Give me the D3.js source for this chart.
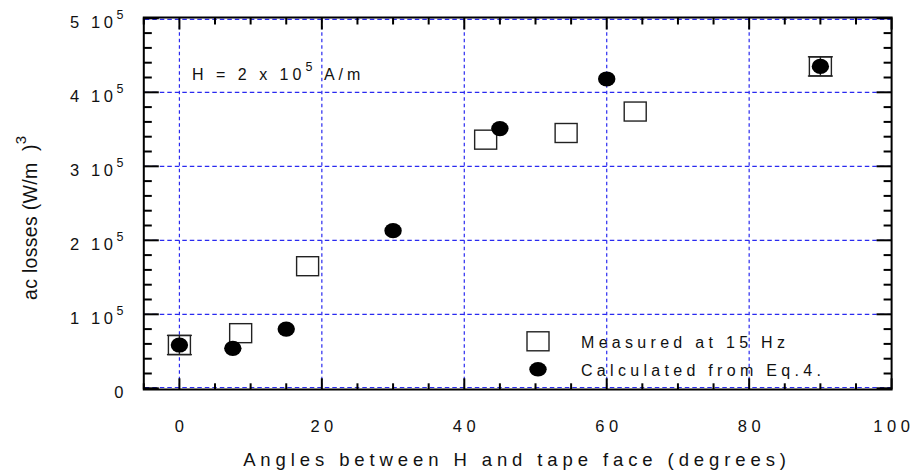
<!DOCTYPE html>
<html>
<head>
<meta charset="utf-8">
<script src="https://cdn.jsdelivr.net/npm/d3@7/dist/d3.min.js"></script>
<style>
  html, body { margin: 0; padding: 0; background: #fff; }
  svg { display: block; font-family: "Liberation Sans", Arial, sans-serif; }
</style>
</head>
<body>
<svg id="chart" width="916" height="474"></svg>
<script>
// ---- data ----
const measuredAngle = [0, 8.6, 18, 43, 54.3, 64, 90];
const measuredLoss  = [58500, 74500, 165000, 336000, 345000, 374000, 435000];
const measuredErr   = [13000, 0, 0, 0, 0, 0, 13000];
const calcAngle = [0, 7.5, 15, 30, 45, 60, 90];
const calcLoss  = [58500, 54000, 80000, 213000, 351000, 418000, 435000];

const xMajorTicks = [0, 20, 40, 60, 80, 100];
const xTickLabels = ["0", "20", "40", "60", "80", "100"];
const yMajorTicks = [0, 100000, 200000, 300000, 400000, 500000];
const yTickMantissa = ["0", "1 10", "2 10", "3 10", "4 10", "5 10"];
const yTickExponent = ["", "5", "5", "5", "5", "5"];
const xGrid = [0, 20, 40, 60, 80];
const yGrid = [0, 100000, 200000, 300000, 400000, 500000];

const legendLabels = ["Measured at 15 Hz", "Calculated from Eq.4."];
const xTitle = "Angles between H and tape face (degrees)";

// ---- layout ----
const svg = d3.select("#chart");
const L = 143.8, R = 891.6, T = 18.3, B = 388.3;
const x = d3.scaleLinear().domain([-5, 100]).range([L, R]);
const y = d3.scaleLinear().domain([0, 500000]).range([B, T]);
const blue = "#2a2af0";

// gridlines
const g = svg.append("g");
g.selectAll("line.hg").data(yGrid).join("line")
  .attr("x1", L + 1).attr("x2", R - 1)
  .attr("y1", d => y(d) + (d === 0 ? -0.8 : d === 500000 ? 1 : 0))
  .attr("y2", d => y(d) + (d === 0 ? -0.8 : d === 500000 ? 1 : 0))
  .attr("stroke", blue).attr("stroke-width", 1.2).attr("stroke-dasharray", "4.5,3");
g.selectAll("line.vg").data(xGrid).join("line")
  .attr("x1", d => x(d)).attr("x2", d => x(d))
  .attr("y1", T + 1).attr("y2", B)
  .attr("stroke", blue).attr("stroke-width", 1.2).attr("stroke-dasharray", "3.5,3");

// frame
svg.append("rect").attr("x", L).attr("y", T - 0.8).attr("width", R - L).attr("height", B - T + 2)
  .attr("fill", "none").attr("stroke", "#000").attr("stroke-width", 2);

// ticks
const xMinor = d3.range(-5, 101, 5);
const yMinor = d3.range(0, 500001, 20000);
const tk = svg.append("g").attr("stroke", "#000").attr("stroke-width", 2);
xMinor.forEach(v => {
  const major = xMajorTicks.includes(v);
  const len = major ? 11 : 6;
  tk.append("line").attr("x1", x(v)).attr("x2", x(v)).attr("y1", B + 1).attr("y2", B + 1 - len);
  tk.append("line").attr("x1", x(v)).attr("x2", x(v)).attr("y1", T - 0.8).attr("y2", T - 0.8 + len + 1);
});
yMinor.forEach(v => {
  const major = v % 100000 === 0;
  const len = major ? 15 : 8;
  tk.append("line").attr("x1", L).attr("x2", L + len).attr("y1", y(v)).attr("y2", y(v));
  tk.append("line").attr("x1", R).attr("x2", R - len).attr("y1", y(v)).attr("y2", y(v));
});

// x tick labels
const ls = 4.5;
svg.append("g").selectAll("text").data(xMajorTicks).join("text")
  .attr("x", d => x(d) + ls / 2).attr("y", 432)
  .attr("text-anchor", "middle").attr("font-size", 16.5).attr("letter-spacing", ls)
  .attr("fill", "#111")
  .text((d, i) => xTickLabels[i]);

// y tick labels
const yl = svg.append("g");
yMajorTicks.forEach((v, i) => {
  const t = yl.append("text").attr("x", 127).attr("y", y(v) + 9.5)
    .attr("text-anchor", "end").attr("font-size", 16.5).attr("letter-spacing", 3.6).attr("fill", "#111");
  t.append("tspan").text(yTickMantissa[i]);
  if (yTickExponent[i]) {
    t.append("tspan").attr("font-size", 12.5).attr("dy", -8.5).text(yTickExponent[i]);
  }
});

// axis titles
svg.append("text").attr("x", 517).attr("y", 466)
  .attr("text-anchor", "middle").attr("font-size", 18.5).attr("letter-spacing", 4.9)
  .attr("fill", "#111").text(xTitle);

const yt = svg.append("text").attr("transform", "translate(37,300) rotate(-90)")
  .attr("text-anchor", "start").attr("font-size", 19.5).attr("letter-spacing", 0.3).attr("fill", "#111");
yt.append("tspan").text("ac losses (W/m\u00A0\u00A0)");
yt.append("tspan").attr("font-size", 15).attr("dy", -11).text("3");

// annotation
const an = svg.append("text").attr("x", 192).attr("y", 79.5)
  .attr("font-size", 16).attr("letter-spacing", 4).attr("fill", "#111");
an.append("tspan").text("H = 2 x 10");
an.append("tspan").attr("font-size", 12.5).attr("dy", -9).text("5");
an.append("tspan").attr("dy", 9).text(" A/m");

// measured squares (with error caps)
const sw = 22, sh = 19;
const meas = measuredAngle.map((a, i) => ({ a, v: measuredLoss[i], e: measuredErr[i] }));
svg.append("g").selectAll("rect").data(meas).join("rect")
  .attr("x", d => x(d.a) - sw / 2).attr("y", d => y(d.v) - sh / 2)
  .attr("width", sw).attr("height", sh)
  .attr("fill", "#fff").attr("stroke", "#222").attr("stroke-width", 1.4);
const eb = svg.append("g").attr("stroke", "#222").attr("stroke-width", 1.4);
meas.filter(d => d.e > 0).forEach(d => {
  eb.append("line").attr("x1", x(d.a)).attr("x2", x(d.a)).attr("y1", y(d.v - d.e)).attr("y2", y(d.v + d.e));
  [d.v - d.e, d.v + d.e].forEach(c => {
    eb.append("line").attr("x1", x(d.a) - sw / 2 - 1.5).attr("x2", x(d.a) + sw / 2 + 1.5)
      .attr("y1", y(c)).attr("y2", y(c));
  });
});

// calculated circles
const calc = calcAngle.map((a, i) => ({ a, v: calcLoss[i] }));
svg.append("g").selectAll("ellipse").data(calc).join("ellipse")
  .attr("cx", d => x(d.a)).attr("cy", d => y(d.v)).attr("rx", 8.7).attr("ry", 7.6)
  .attr("fill", "#000");

// legend
const lg = svg.append("g");
lg.append("rect").attr("x", 538 - sw / 2).attr("y", 341.3 - sh / 2).attr("width", sw).attr("height", sh)
  .attr("fill", "#fff").attr("stroke", "#222").attr("stroke-width", 1.4);
lg.append("ellipse").attr("cx", 538).attr("cy", 369.3).attr("rx", 8.7).attr("ry", 7.3).attr("fill", "#000");
lg.selectAll("text").data(legendLabels).join("text")
  .attr("x", 581).attr("y", (d, i) => 347.5 + i * 28.5)
  .attr("font-size", 16).attr("letter-spacing", 4.3).attr("fill", "#111")
  .text(d => d);
</script>
</body>
</html>
